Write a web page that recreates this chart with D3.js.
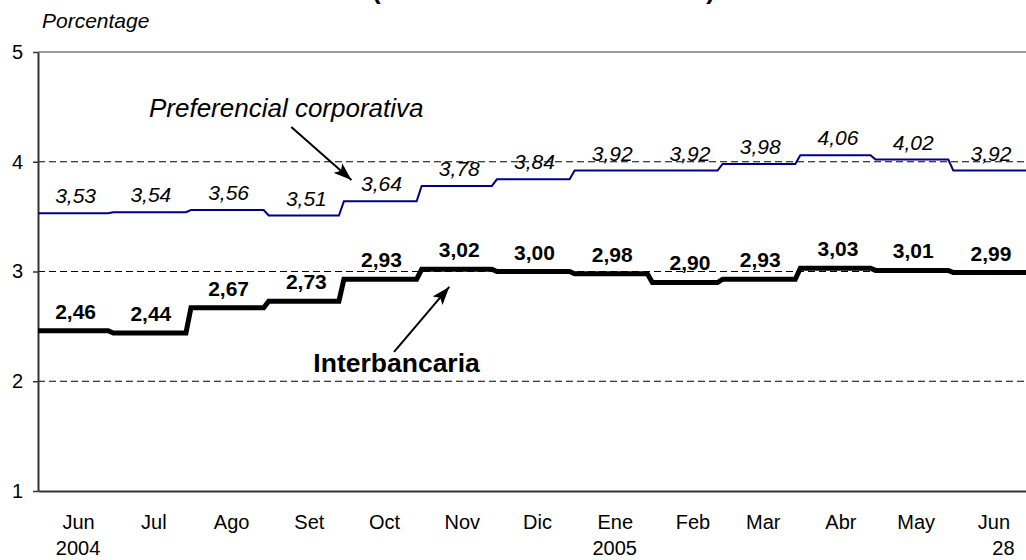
<!DOCTYPE html>
<html>
<head>
<meta charset="utf-8">
<script src="https://cdn.jsdelivr.net/npm/d3@7/dist/d3.min.js"></script>
<style>
  html, body { margin: 0; padding: 0; background: #fff; }
  svg { display: block; font-family: "Liberation Sans", Arial, sans-serif; }
</style>
</head>
<body>
<svg id="chart" width="1026" height="560"></svg>
<script>
// ---- Data ----
const months = ["2004-06","2004-07","2004-08","2004-09","2004-10","2004-11","2004-12",
                "2005-01","2005-02","2005-03","2005-04","2005-05","2005-06"];
const monthLabels = ["Jun","Jul","Ago","Set","Oct","Nov","Dic","Ene","Feb","Mar","Abr","May","Jun"];
const yearLabels  = ["2004","","","","","","","2005","","","","","28"];
const preferencial = [3.53,3.54,3.56,3.51,3.64,3.78,3.84,3.92,3.92,3.98,4.06,4.02,3.92];
const interbancaria = [2.46,2.44,2.67,2.73,2.93,3.02,3.00,2.98,2.90,2.93,3.03,3.01,2.99];
const yTicks = [1,2,3,4,5];
const prefLabels = ["3,53","3,54","3,56","3,51","3,64","3,78","3,84","3,92","3,92","3,98","4,06","4,02","3,92"];
const interLabels = ["2,46","2,44","2,67","2,73","2,93","3,02","3,00","2,98","2,90","2,93","3,03","3,01","2,99"];
const titleText = "(En términos anuales)";
const yAxisTitle = "Porcentage";
const seriesNames = ["Preferencial corporativa","Interbancaria"];
const domainStart = "2004-06-01", domainEnd = "2005-06-30";

(function () {
// ---- Setup ----
const parseM = d3.timeParse("%Y-%m");
const parseD = d3.timeParse("%Y-%m-%d");
const svg = d3.select("#chart");
const mLeft = 38, mRight = 1026, mTop = 52, mBottom = 491;

const x = d3.scaleTime().domain([parseD(domainStart), parseD(domainEnd)]).range([mLeft, mRight]);
const y = d3.scaleLinear().domain([1,5]).range([mBottom, mTop]);

const monthStarts = months.map(parseM);
const midDate = (d, day) => d3.timeDay.offset(d, day - 1);

function stepPoints(vals) {
  const pts = [];
  vals.forEach((v, i) => {
    const s = monthStarts[i];
    const e = i < vals.length - 1 ? d3.timeDay.offset(monthStarts[i+1], -2) : x.domain()[1];
    pts.push([s, v], [e, v]);
  });
  return pts;
}

// Gridlines (dashed) at 2,3,4
svg.append("g").selectAll("line").data(yTicks.filter(t => t > 1 && t < 5)).join("line")
  .attr("x1", mLeft).attr("x2", mRight)
  .attr("y1", d => y(d)).attr("y2", d => y(d))
  .attr("stroke", "#000").attr("stroke-width", 1).attr("stroke-dasharray", "7,4");

// Top border line
svg.append("line").attr("x1", mLeft).attr("x2", mRight).attr("y1", y(5)).attr("y2", y(5))
  .attr("stroke", "#9a9a9a").attr("stroke-width", 2);

// Y axis
const yAxis = svg.append("g").attr("transform", `translate(${mLeft},0)`)
  .call(d3.axisLeft(y).tickValues(yTicks).tickSize(5).tickPadding(10).tickFormat(d3.format("d")).tickSizeOuter(0));
yAxis.select(".domain").attr("stroke", "#333").attr("stroke-width", 2);
yAxis.selectAll(".tick line").attr("stroke", "#333").attr("stroke-width", 1.5);
yAxis.selectAll("text").attr("font-size", 20).attr("fill", "#000")
  .attr("font-family", "Liberation Sans, Arial, sans-serif");

// X axis
const tickDates = monthStarts.map(d => midDate(d, 17));
const xAxis = svg.append("g").attr("transform", `translate(0,${mBottom})`)
  .call(d3.axisBottom(x).tickValues(tickDates).tickSize(0).tickPadding(24).tickSizeOuter(0)
    .tickFormat((d, i) => monthLabels[i]));
xAxis.select(".domain").attr("stroke", "#333").attr("stroke-width", 2);
xAxis.selectAll("text").attr("font-size", 20).attr("fill", "#000")
  .attr("font-family", "Liberation Sans, Arial, sans-serif");

svg.append("g").selectAll("text").data(yearLabels).join("text")
  .attr("x", (d, i) => x(tickDates[i]) + (i === yearLabels.length - 1 ? 10 : 0))
  .attr("y", 555)
  .attr("text-anchor", "middle").attr("font-size", 20).text(d => d);

// Lines
const line = d3.line().x(d => x(d[0])).y(d => y(d[1])).curve(d3.curveLinear);
svg.append("path").datum(stepPoints(preferencial)).attr("d", line)
  .attr("fill", "none").attr("stroke", "#000080").attr("stroke-width", 2);
svg.append("path").datum(stepPoints(interbancaria)).attr("d", line)
  .attr("fill", "none").attr("stroke", "#000").attr("stroke-width", 5).attr("stroke-linejoin", "miter");

// Value labels
const labDates = monthStarts.map(d => midDate(d, 16));
svg.append("g").selectAll("text").data(preferencial).join("text")
  .attr("x", (d, i) => x(labDates[i])).attr("y", d => y(d) - 10)
  .attr("text-anchor", "middle").attr("font-size", 21).attr("font-style", "italic")
  .text((d, i) => prefLabels[i]);
svg.append("g").selectAll("text").data(interbancaria).join("text")
  .attr("x", (d, i) => x(labDates[i])).attr("y", d => y(d) - 12)
  .attr("text-anchor", "middle").attr("font-size", 21).attr("font-weight", "bold")
  .text((d, i) => interLabels[i]);

// Annotations (in data coordinates)
const defs = svg.append("defs");
defs.append("marker").attr("id", "arrow").attr("markerUnits", "userSpaceOnUse")
  .attr("viewBox", "0 0 18 13").attr("refX", 18).attr("refY", 6.5)
  .attr("markerWidth", 18).attr("markerHeight", 13).attr("orient", "auto")
  .append("path").attr("d", "M0,0 L18,6.5 L0,13 L4,6.5 Z").attr("fill", "#000");

const annotations = [
  { name: seriesNames[0], labelDate: "2004-09-08", labelVal: 4.41, tail: ["2004-09-10", 4.317], tip: ["2004-10-04", 3.834], style: "italic", weight: "normal", size: 26 },
  { name: seriesNames[1], labelDate: "2004-10-22", labelVal: 2.084, tail: ["2004-10-21", 2.267], tip: ["2004-11-12", 2.859], style: "normal", weight: "bold", size: 26.5 }
];
annotations.forEach(a => {
  svg.append("text").attr("x", x(parseD(a.labelDate))).attr("y", y(a.labelVal))
    .attr("text-anchor", "middle").attr("font-size", a.size)
    .attr("font-style", a.style).attr("font-weight", a.weight).text(a.name);
  svg.append("line")
    .attr("x1", x(parseD(a.tail[0]))).attr("y1", y(a.tail[1]))
    .attr("x2", x(parseD(a.tip[0]))).attr("y2", y(a.tip[1]))
    .attr("stroke", "#000").attr("stroke-width", 2).attr("marker-end", "url(#arrow)");
});

// Y axis title
svg.append("text").attr("x", 42).attr("y", 28).attr("font-size", 21).attr("font-style", "italic").text(yAxisTitle);

// Chart title (mostly above the visible area)
svg.append("text").attr("x", 372).attr("y", -1).attr("font-size", 26).attr("font-weight", "bold")
  .attr("textLength", 343).attr("lengthAdjust", "spacing").text(titleText);
})();
</script>
</body>
</html>
